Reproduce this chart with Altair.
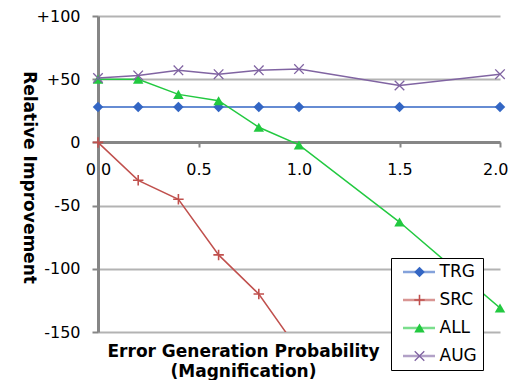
import altair as alt
import pandas as pd

series = ["TRG", "SRC", "ALL", "AUG"]
colors = ["#3366c4", "#c0504d", "#22c940", "#8064a2"]
x_main = [0.0, 0.2, 0.4, 0.6, 0.8, 1.0, 1.5, 2.0]
trg = [28, 28, 28, 28, 28, 28, 28, 28]
src_x = [0.0, 0.2, 0.4, 0.6, 0.8, 1.0]
src = [0, -30, -45, -89, -120, -165]
all_vals = [50, 50, 38, 33, 12, -2, -63, -131]
aug = [51, 53, 57, 54, 57, 58, 45, 54]
x_ticks = [0.0, 0.5, 1.0, 1.5, 2.0]
y_ticks = [-150, -100, -50, 0, 50, 100]

rows = []
for name, xs, ys in [("TRG", x_main, trg), ("SRC", src_x, src),
                     ("ALL", x_main, all_vals), ("AUG", x_main, aug)]:
    for xv, yv in zip(xs, ys):
        rows.append({"series": name, "x": xv, "y": yv})
df = pd.DataFrame(rows)

plus_path = "M-1,-0.15H-0.15V-1H0.15V-0.15H1V0.15H0.15V1H-0.15V0.15H-1Z"
x_path = ("M-1,-0.82L-0.82,-1L0,-0.18L0.82,-1L1,-0.82L0.18,0L1,0.82"
          "L0.82,1L0,0.18L-0.82,1L-1,0.82L-0.18,0Z")
shapes = ["diamond", plus_path, "triangle-up", x_path]

FONT = "DejaVu Sans"
GRAY = "#868686"

x_enc = alt.X(
    "x:Q",
    scale=alt.Scale(domain=[0, 2], nice=False, zero=False),
    axis=alt.Axis(
        values=x_ticks, format=".1f", labelFontSize=16, labelColor="black",
        labelPadding=14, labelFlush=False,
        labelAlign={"condition": {"test": "datum.value >= 2", "value": "right"},
                    "value": "center"},
        labelOffset={"condition": {"test": "datum.value >= 2", "value": 8},
                     "value": 0},
        tickSize=5, tickWidth=2,
        tickColor=GRAY, domainColor=GRAY, domainWidth=3, grid=False,
        offset=-190,
        title=["Error Generation Probability", "(Magnification)"],
        titleFontSize=17, titleFontWeight="bold", titleX=145, titleY=201,
        titleAlign="center", titleBaseline="top", titleLineHeight=20,
        titleColor="black",
    ),
)
y_enc = alt.Y(
    "y:Q",
    scale=alt.Scale(domain=[-150, 100], nice=False),
    axis=alt.Axis(
        values=y_ticks,
        labelExpr="datum.value > 0 ? '+' + datum.value : '' + datum.value",
        labelFontSize=16, labelColor="black", labelPadding=12, tickSize=6,
        tickWidth=2, tickColor=GRAY, domainColor=GRAY, domainWidth=3,
        grid=True, gridColor="#b3b3b3", gridWidth=2,
        title="Relative Improvement", titleFontSize=17,
        titleFontWeight="bold", titleAngle=90, titleX=-70, titleY=161,
        titleAlign="center", titleBaseline="middle", titleColor="black",
    ),
)

line_legend = alt.Legend(
    title=None, orient="none", legendX=293, legendY=242,
    symbolType="stroke", symbolSize=1024, symbolStrokeWidth=2.5,
    symbolOpacity=0.6, labelFontSize=17, labelFont=FONT, labelColor="black",
    clipHeight=16, rowPadding=11, padding=6, symbolOffset=4.5, labelOffset=3,
    strokeColor="black", fillColor="white",
)
marker_legend = alt.Legend(
    title=None, orient="none", legendX=293, legendY=242,
    symbolSize=110, symbolStrokeWidth=0, symbolOpacity=1,
    labelFontSize=17, labelFont=FONT, labelExpr="''",
    clipHeight=16, rowPadding=11, padding=6, symbolOffset=14, labelOffset=3,
)

base = alt.Chart(df)

lines = base.mark_line(strokeWidth=1.5, clip=True).encode(
    x=x_enc, y=y_enc,
    color=alt.Color("series:N", scale=alt.Scale(domain=series, range=colors),
                    legend=line_legend),
)

points = base.transform_filter("datum.y >= -150").mark_point(
    filled=True, size=110, opacity=1
).encode(
    x=x_enc, y=y_enc,
    color=alt.Color("series:N", scale=alt.Scale(domain=series, range=colors),
                    legend=marker_legend),
    shape=alt.Shape("series:N", scale=alt.Scale(domain=series, range=shapes),
                    legend=marker_legend),
)

chart = alt.layer(lines, points).resolve_scale(
    color="independent", shape="independent"
).resolve_legend(
    color="independent", shape="independent"
).properties(
    width=402, height=316,
    autosize=alt.AutoSizeParams(type="none"),
    padding={"left": 90, "top": 8, "right": 8, "bottom": 48},
    background="white",
).configure_view(stroke=None).configure_axis(
    labelFont=FONT, titleFont=FONT
)

chart.save("out.html", embed_options={"renderer": "svg", "actions": False})
